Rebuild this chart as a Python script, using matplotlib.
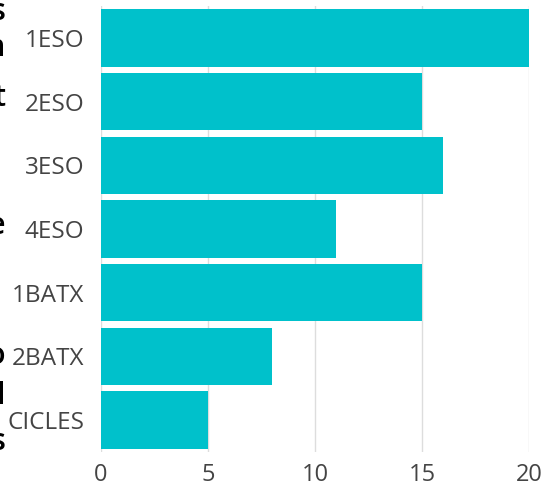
import matplotlib
matplotlib.use("Agg")
import matplotlib.pyplot as plt

categories = ["1ESO", "2ESO", "3ESO", "4ESO", "1BATX", "2BATX", "CICLES"]
values = [20, 15, 16, 11, 15, 8, 5]
xticks = [0, 5, 10, 15, 20]

# clipped fragments of text at the left edge (char, y pixel from top)
frag_chars = ["s", "n", "t", "e", "o", "l", "s"]
frag_y = [12, 48, 98, 226, 356, 396, 442]

W, H = 554, 488
fig = plt.figure(figsize=(W / 100, H / 100), dpi=100)
ax = fig.add_axes([101 / W, 1 - 452 / H, (529 - 101) / W, (452 - 6) / H])

color = "#00C1CB"
ypos = list(range(len(categories)))
ax.barh(ypos, values, height=0.9, color=color, zorder=2)
ax.set_ylim(len(categories) - 0.5, -0.5)
ax.set_xlim(0, 20)
ax.set_xticks(xticks)
ax.set_yticks(ypos)
ax.set_yticklabels(categories, fontfamily="Open Sans", fontsize=17.5, color="#444444")
ax.set_xticklabels([str(t) for t in xticks], fontfamily="Open Sans", fontsize=17, color="#444444")
ax.tick_params(axis="both", length=0)
ax.tick_params(axis="y", pad=12)
ax.tick_params(axis="x", pad=8)
for s in ax.spines.values():
    s.set_visible(False)
ax.grid(axis="x", color="#dddddd", linewidth=1, zorder=0)
ax.set_axisbelow(True)

for ch, yp in zip(frag_chars, frag_y):
    fig.text(5 / W, 1 - yp / H, ch, ha="right", va="center", fontsize=22,
             color="#000000", fontfamily="Open Sans", fontweight="semibold")

fig.savefig("out.png", dpi=100)
